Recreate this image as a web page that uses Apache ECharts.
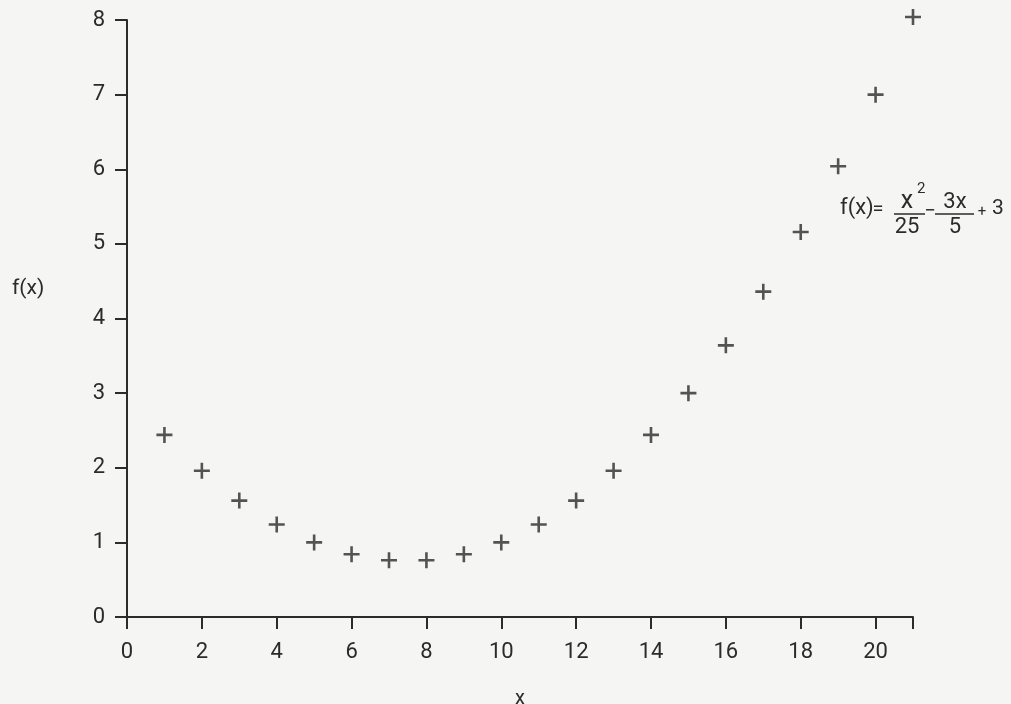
<!DOCTYPE html>
<html>
<head>
<meta charset="utf-8">
<script src="https://cdn.jsdelivr.net/npm/echarts@6/dist/echarts.min.js"></script>
<style>
  html, body { margin: 0; padding: 0; background: #f5f5f4; }
  #chart { width: 1011px; height: 704px; }
</style>
</head>
<body>
<div id="chart"></div>
<script>
// values
const xValues = [1, 2, 3, 4, 5, 6, 7, 8, 9, 10, 11, 12, 13, 14, 15, 16, 17, 18, 19, 20, 21]
const fValues = [2.44, 1.96, 1.56, 1.24, 1.0, 0.84, 0.76, 0.76, 0.84, 1.0, 1.24, 1.56, 1.96, 2.44, 3.0, 3.64, 4.36, 5.16, 6.04, 7.0, 8.04]
const xTicks = [0, 2, 4, 6, 8, 10, 12, 14, 16, 18, 20, 21]
const xLabels = [0, 2, 4, 6, 8, 10, 12, 14, 16, 18, 20]
const yTicks = [0, 1, 2, 3, 4, 5, 6, 7, 8]

const ink = '#2b2b2b'
const font = 'Roboto'
// "+" marker, bars about 2.6px thick at size 16
const plus = 'path://M6.7,0H9.3V6.7H16V9.3H9.3V16H6.7V9.3H0V6.7H6.7Z'

let myChart = echarts.init(document.getElementById('chart'))

function txt(x, y, text, size, align, vAlign) {
  return {
    type: 'text', x: x, y: y, silent: true,
    style: { text: text, fill: ink, font: size + 'px ' + font, align: align || 'left', verticalAlign: vAlign || 'middle' }
  }
}
function bar(x1, x2, y) {
  return { type: 'line', silent: true, shape: { x1: x1, y1: y, x2: x2, y2: y }, style: { stroke: ink, lineWidth: 1.5 } }
}

myChart.setOption({
  backgroundColor: '#f5f5f4',
  animation: false,
  grid: { left: 127, right: 98, top: 20, bottom: 87, outerBoundsMode: 'none' },
  xAxis: {
    type: 'value', min: 0, max: 21,
    name: 'x', nameLocation: 'middle', nameGap: 72,
    nameTextStyle: { color: ink, fontFamily: font, fontSize: 20 },
    splitLine: { show: false },
    axisLine: { onZero: false, lineStyle: { color: ink, width: 2 } },
    axisTick: { customValues: xTicks, length: 12, lineStyle: { color: ink, width: 2 } },
    axisLabel: { customValues: xLabels, margin: 24, color: ink, fontFamily: font, fontSize: 22 }
  },
  yAxis: {
    type: 'value', min: 0, max: 8, interval: 1,
    splitLine: { show: false },
    axisLine: { show: true, lineStyle: { color: ink, width: 2 } },
    axisTick: { show: true, customValues: yTicks, length: 12, lineStyle: { color: ink, width: 2 } },
    axisLabel: { margin: 22, color: ink, fontFamily: font, fontSize: 22 }
  },
  series: [{
    type: 'scatter',
    clip: false,
    symbol: plus,
    symbolSize: 16,
    itemStyle: { color: ink },
    data: xValues.map((x, i) => [x, fValues[i]])
  }],
  graphic: [
    txt(12, 289, 'f(x)', 21),
    txt(840, 208, 'f(x)', 22),
    txt(878, 210, '=', 20, 'center'),
    txt(907, 214, 'x', 25, 'center', 'bottom'),
    txt(917, 189, '2', 15),
    bar(894, 925, 214),
    txt(907, 216, '25', 22, 'center', 'top'),
    txt(930, 212, '−', 20, 'center'),
    txt(955, 213, '3x', 22, 'center', 'bottom'),
    bar(935, 974, 214),
    txt(955, 216, '5', 22, 'center', 'top'),
    txt(982, 212, '+', 15, 'center'),
    txt(992, 209, '3', 21)
  ]
})
</script>
</body>
</html>
